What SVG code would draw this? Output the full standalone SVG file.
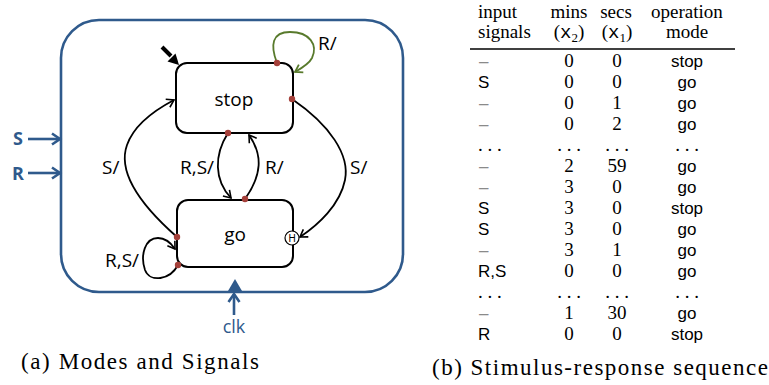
<svg xmlns="http://www.w3.org/2000/svg" width="769" height="385" viewBox="0 0 769 385">
<defs>
<marker id="ab" markerUnits="userSpaceOnUse" markerWidth="12" markerHeight="12" refX="9" refY="6" orient="auto"><path d="M2,1.5 L9,6 L2,10.5" fill="none" stroke="#000" stroke-width="1.6"/></marker>
<marker id="ag" markerUnits="userSpaceOnUse" markerWidth="12" markerHeight="12" refX="9" refY="6" orient="auto"><path d="M2,1.5 L9,6 L2,10.5" fill="none" stroke="#587a2c" stroke-width="1.8"/></marker>
<marker id="au" markerUnits="userSpaceOnUse" markerWidth="14" markerHeight="14" refX="11" refY="7" orient="auto"><path d="M3,1.5 L11,7 L3,12.5" fill="none" stroke="#2f5a8c" stroke-width="2.6"/></marker>
</defs>
<style>
.box{fill:#fff;stroke:#000;stroke-width:2}
.con{fill:none;stroke:#000;stroke-width:1.8}
.lbl{font-family:"Open Sans",sans-serif;font-size:19px;fill:#000}
.blu{font-family:"Open Sans",sans-serif;font-size:18px;fill:#2f5a8c}
.dot{fill:#a5403a}
.tb{font-family:"Liberation Serif",serif;font-size:19px;fill:#000}
.ts{font-family:"Liberation Sans",sans-serif;font-size:17px;fill:#000}
.dash{font-family:"Liberation Sans",sans-serif;font-size:17px;fill:#8a8a8a}
.tt{font-family:"Liberation Mono",monospace}
.cap{font-family:"Liberation Serif",serif;font-size:23px;fill:#000}
.m{text-anchor:middle}
</style>

<g id="system">
<rect x="61" y="20" width="342" height="272" rx="38" fill="none" stroke="#2f5a8c" stroke-width="2.6"/>
</g>

<g id="inputs">
<text class="blu" x="18" y="145" text-anchor="middle" font-weight="bold">S</text>
<line x1="28" y1="139" x2="60" y2="139" stroke="#2f5a8c" stroke-width="2.6" marker-end="url(#au)"/>
<text class="blu" x="18" y="180" text-anchor="middle" font-weight="bold">R</text>
<line x1="28" y1="173" x2="60" y2="173" stroke="#2f5a8c" stroke-width="2.6" marker-end="url(#au)"/>
</g>

<g id="clk">
<polygon points="235,279 228,291 242,291" fill="#2f5a8c"/>
<line x1="234" y1="315" x2="234" y2="294" stroke="#2f5a8c" stroke-width="2.6" marker-end="url(#au)"/>
<text class="blu" x="234" y="333" text-anchor="middle">clk</text>
</g>

<g id="stop">
<rect class="box" x="176" y="63" width="117" height="70" rx="11"/>
<text class="lbl m" x="234" y="106">stop</text>
</g>

<g id="go">
<rect class="box" x="177" y="200" width="116" height="67" rx="11"/>
<text class="lbl m" x="235" y="241">go</text>
<circle cx="292" cy="238" r="7" fill="#fff" stroke="#000" stroke-width="1.2"/>
<text x="292" y="242" text-anchor="middle" font-family="Liberation Sans, sans-serif" font-size="10">H</text>
</g>

<g id="connectors">
<line x1="162" y1="47" x2="171" y2="56" stroke="#000" stroke-width="4"/>
<polygon points="179,65 175.5,53.5 167.5,61.5" fill="#000"/>
<path d="M277,63 C270,45 272,32 290,32 C310,32 318,45 312,58 C309,64 302,68 295,72" fill="none" stroke="#587a2c" stroke-width="1.8" marker-end="url(#ag)"/>
<path class="con" d="M177,237 C135,200 118,170 127,145 C134,125 155,110 174,100" marker-end="url(#ab)"/>
<path class="con" d="M228,133 C214,155 214,180 231,198" marker-end="url(#ab)"/>
<path class="con" d="M245,199 C262,175 263,155 249,135" marker-end="url(#ab)"/>
<path class="con" d="M292,99 C330,125 350,155 345,180 C340,205 318,225 300,237" marker-end="url(#ab)"/>
<path class="con" d="M178,265 C170,280 150,283 145,270 C140,255 145,238 158,238 C166,238 171,243 175,249" marker-end="url(#ab)"/>
<circle class="dot" cx="277" cy="63" r="3.2"/>
<circle class="dot" cx="292" cy="99" r="3.2"/>
<circle class="dot" cx="228" cy="133" r="3.2"/>
<circle class="dot" cx="245" cy="199" r="3.2"/>
<circle class="dot" cx="177" cy="237" r="3.2"/>
<circle class="dot" cx="178" cy="265" r="3.2"/>
<text class="lbl" x="318" y="50">R/</text>
<text class="lbl" x="102" y="174">S/</text>
<text class="lbl" x="180" y="174">R,S/</text>
<text class="lbl" x="265" y="174">R/</text>
<text class="lbl" x="350" y="174">S/</text>
<text class="lbl" x="105" y="267">R,S/</text>
</g>

<g id="caption-a">
<text class="cap" x="21" y="369" textLength="238" lengthAdjust="spacing">(a) Modes and Signals</text>
</g>

<g id="table">
<text class="tb" x="478" y="18">input</text>
<text class="tb" x="478" y="38">signals</text>
<text class="tb m" x="569" y="18">mins</text>
<text class="tb m" x="569" y="38">(<tspan class="tt">x</tspan><tspan font-size="13" dy="4">2</tspan><tspan dy="-4">)</tspan></text>
<text class="tb m" x="616" y="18">secs</text>
<text class="tb m" x="617" y="38">(<tspan class="tt">x</tspan><tspan font-size="13" dy="4">1</tspan><tspan dy="-4">)</tspan></text>
<text class="tb m" x="687" y="18">operation</text>
<text class="tb m" x="687" y="38">mode</text>
<line x1="470" y1="49" x2="735" y2="49" stroke="#000" stroke-width="1.3"/>

<text class="dash" x="479" y="67">–</text><text class="tb m" x="569" y="67">0</text><text class="tb m" x="617" y="67">0</text><text class="ts m" x="687" y="67">stop</text>
<text class="ts" x="478" y="88">S</text><text class="tb m" x="569" y="88">0</text><text class="tb m" x="617" y="88">0</text><text class="ts m" x="687" y="88">go</text>
<text class="dash" x="479" y="109">–</text><text class="tb m" x="569" y="109">0</text><text class="tb m" x="617" y="109">1</text><text class="ts m" x="687" y="109">go</text>
<text class="dash" x="479" y="130">–</text><text class="tb m" x="569" y="130">0</text><text class="tb m" x="617" y="130">2</text><text class="ts m" x="687" y="130">go</text>
<text class="tb" x="478" y="151">. . .</text><text class="tb m" x="569" y="151">. . .</text><text class="tb m" x="617" y="151">. . .</text><text class="tb m" x="687" y="151">. . .</text>
<text class="dash" x="479" y="172">–</text><text class="tb m" x="569" y="172">2</text><text class="tb m" x="617" y="172">59</text><text class="ts m" x="687" y="172">go</text>
<text class="dash" x="479" y="193">–</text><text class="tb m" x="569" y="193">3</text><text class="tb m" x="617" y="193">0</text><text class="ts m" x="687" y="193">go</text>
<text class="ts" x="478" y="214">S</text><text class="tb m" x="569" y="214">3</text><text class="tb m" x="617" y="214">0</text><text class="ts m" x="687" y="214">stop</text>
<text class="ts" x="478" y="235">S</text><text class="tb m" x="569" y="235">3</text><text class="tb m" x="617" y="235">0</text><text class="ts m" x="687" y="235">go</text>
<text class="dash" x="479" y="256">–</text><text class="tb m" x="569" y="256">3</text><text class="tb m" x="617" y="256">1</text><text class="ts m" x="687" y="256">go</text>
<text class="ts" x="478" y="277">R,S</text><text class="tb m" x="569" y="277">0</text><text class="tb m" x="617" y="277">0</text><text class="ts m" x="687" y="277">go</text>
<text class="tb" x="478" y="298">. . .</text><text class="tb m" x="569" y="298">. . .</text><text class="tb m" x="617" y="298">. . .</text><text class="tb m" x="687" y="298">. . .</text>
<text class="dash" x="479" y="319">–</text><text class="tb m" x="569" y="319">1</text><text class="tb m" x="617" y="319">30</text><text class="ts m" x="687" y="319">go</text>
<text class="ts" x="478" y="340">R</text><text class="tb m" x="569" y="340">0</text><text class="tb m" x="617" y="340">0</text><text class="ts m" x="687" y="340">stop</text>
</g>

<g id="caption-b">
<text class="cap" x="432" y="375" textLength="336" lengthAdjust="spacing">(b) Stimulus-response sequence</text>
</g>
</svg>
